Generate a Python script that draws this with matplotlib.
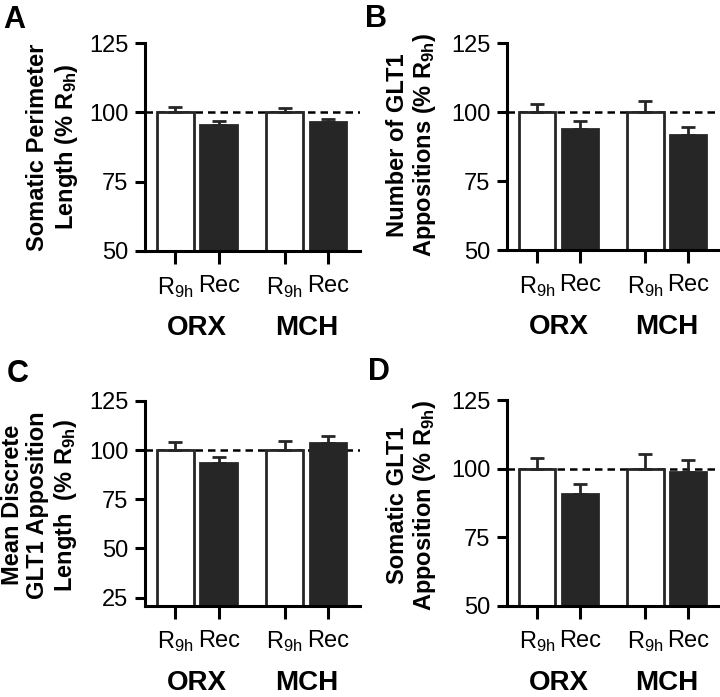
import matplotlib
matplotlib.use('Agg')
from matplotlib import pyplot as plt

# -----------------------------------------------------------------------------
# data (% of R9h)
# -----------------------------------------------------------------------------
groups = ['ORX', 'MCH']
conds = ['R$_{\\mathrm{9h}}$', 'Rec']

perim_mean = [100, 95.4, 100, 96.4]
perim_err = [2.0, 1.5, 1.7, 1.3]

glt1_num_mean = [100, 94.0, 100, 91.6]
glt1_num_err = [3.0, 2.8, 4.0, 2.9]

disc_len_mean = [100, 93.2, 100, 103.4]
disc_len_err = [4.3, 3.4, 4.6, 4.0]

soma_app_mean = [100, 90.9, 100, 98.8]
soma_app_err = [4.1, 3.6, 5.5, 4.6]

plt.rcParams['font.family'] = ['Liberation Sans', 'DejaVu Sans']
plt.rcParams['mathtext.fontset'] = 'custom'
plt.rcParams['mathtext.rm'] = 'Liberation Sans'
plt.rcParams['mathtext.bf'] = 'Liberation Sans:bold'
plt.rcParams['mathtext.it'] = 'Liberation Sans:italic'

FS = 17
DARK = '#262626'
xpos = [0, 1, 2.52, 3.52]


def bar_panel(fig, rect, means, errs, ylim, yticks, ylabel, letter, letter_xy, label_xy):
    ax = fig.add_axes(rect)
    ax.axhline(100, color='black', lw=1.8, ls=(0, (3, 2)), zorder=1)
    colors = ['white', DARK, 'white', DARK]
    ax.bar(xpos, means, width=0.85, color=colors, edgecolor=[DARK] * 4,
           linewidth=2.0, zorder=2)
    ax.errorbar(xpos, means, yerr=[[0] * 4, errs], fmt='none', ecolor=DARK,
                elinewidth=2.0, capsize=5, capthick=2.0, zorder=3)

    ax.set_xlim(-0.7, 4.26)
    ax.set_ylim(*ylim)
    ax.set_yticks(yticks)
    ax.spines['top'].set_visible(False)
    ax.spines['right'].set_visible(False)
    ax.spines['left'].set_bounds(ylim[0], yticks[-1])
    for s in ['left', 'bottom']:
        ax.spines[s].set_linewidth(2.2)
    ax.tick_params(axis='y', length=7, width=2.2, labelsize=FS, pad=5)
    ax.tick_params(axis='x', length=9, width=2.2, labelsize=FS, pad=8)
    ax.set_xticks(xpos)
    ax.set_xticklabels(conds * 2)

    for g, xc in zip(groups, [0.5, 3.02]):
        ax.annotate(g, xy=(xc, 0), xycoords=('data', 'axes fraction'),
                    xytext=(0, -60.5), textcoords='offset points',
                    ha='center', va='baseline', fontsize=20, fontweight='bold')

    fig.text(label_xy[0], label_xy[1], ylabel, rotation=90, ha='center', va='center',
             multialignment='center', fontsize=FS, fontweight='bold', linespacing=1.15)
    fig.text(letter_xy[0], letter_xy[1], letter, fontsize=22, fontweight='bold',
             ha='left', va='baseline')
    return ax


fig = plt.figure(figsize=(7.2, 6.97), dpi=100)

bar_panel(fig, [0.2014, 0.6399, 0.2986, 0.2984], perim_mean, perim_err,
          (50, 125), [50, 75, 100, 125],
          'Somatic Perimeter\nLength (% R$_{\\mathbf{9h}}$)',
          'A', (0.004, 0.96), (53 / 720, 1 - 147 / 697))

bar_panel(fig, [0.7042, 0.6413, 0.2958, 0.297], glt1_num_mean, glt1_num_err,
          (50, 125), [50, 75, 100, 125],
          'Number of GLT1\nAppositions (% R$_{\\mathbf{9h}}$)',
          'B', (365 / 720, 1 - 27 / 697), (412 / 720, 1 - 145 / 697))

bar_panel(fig, [0.2014, 0.1306, 0.2986, 0.2941], disc_len_mean, disc_len_err,
          (20.7, 125), [25, 50, 75, 100, 125],
          'Mean Discrete\nGLT1 Apposition\nLength  (% R$_{\\mathbf{9h}}$)',
          'C', (7 / 720, 1 - 382 / 697), (40 / 720, 1 - 505 / 697))

bar_panel(fig, [0.7042, 0.1306, 0.2958, 0.2950], soma_app_mean, soma_app_err,
          (50, 125), [50, 75, 100, 125],
          'Somatic GLT1\nApposition (% R$_{\\mathbf{9h}}$)',
          'D', (368 / 720, 1 - 380 / 697), (412 / 720, 1 - 505 / 697))

plt.savefig('out.png', dpi=100)
